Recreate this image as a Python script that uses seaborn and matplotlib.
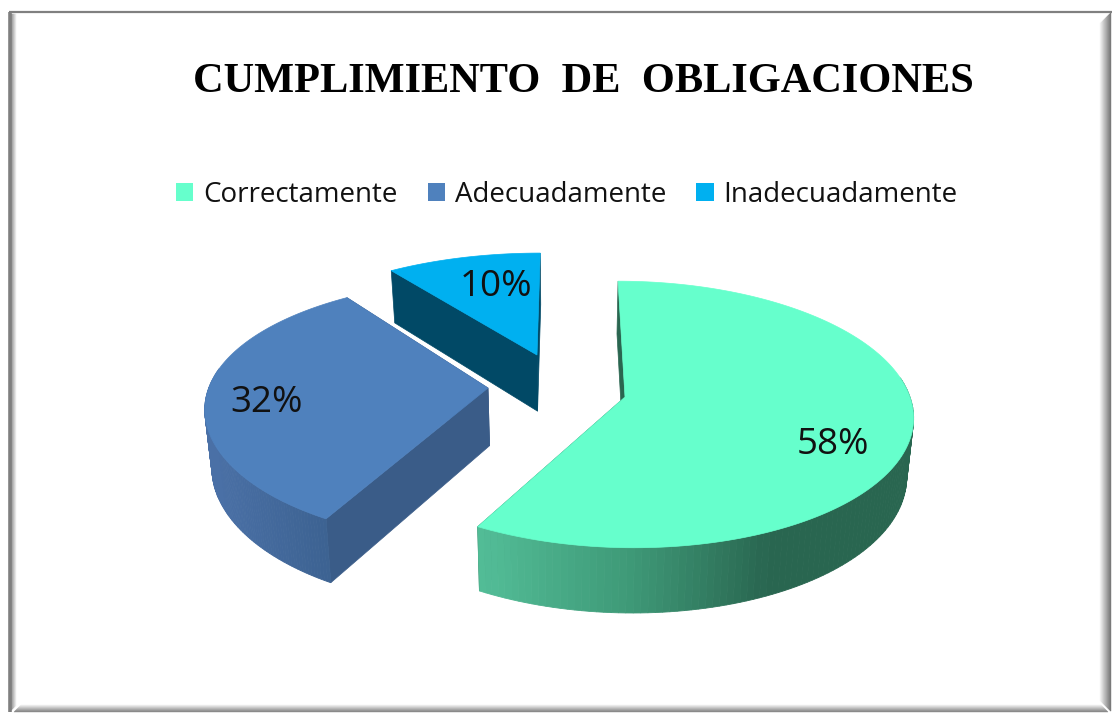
#!/usr/bin/env python3
"""Exploded 3D style pie of how obligations were met."""

import matplotlib
matplotlib.use("Agg")
import matplotlib.pyplot as plt
import numpy as np
import seaborn as sns
from matplotlib.patches import Patch

TITLE = "CUMPLIMIENTO  DE  OBLIGACIONES"
categories = ["Correctamente", "Adecuadamente", "Inadecuadamente"]
shares = [58, 32, 10]
top_colors = ["#66FFCC", "#4F81BD", "#00B0F0"]
cut_colors = ["#2A6650", "#3A5C88", "#014966"]

W, H = 1115, 713
VANISH_X = 565
PERSP = 0.131
RX, RY = 285, 131


def project(apex, u, v, shape):
    """Disc coordinates to pixels, with a little perspective towards the viewer."""
    rx_scale, ry_scale, py = shape
    x = VANISH_X + (apex[0] - VANISH_X + RX * rx_scale * u) / (1 - PERSP * v)
    y = apex[1] + RY * ry_scale * v / (1 - py * v)
    return x, y


def extrude(x, y):
    """Bottom face of the same point."""
    return x + (VANISH_X - x) * 0.02, y + 39.5 + 0.047 * y


def draw_slice(ax, start, end, apex, shape, top, cut, side):
    t = np.radians(np.linspace(start, end, 160))
    x, y = project(apex, np.sin(t), -np.cos(t), shape)
    bx, by = extrude(x, y)
    ax_, ay_ = apex
    abx, aby = extrude(ax_, ay_)

    for j in (0, -1):
        ax.fill([ax_, x[j], bx[j], abx], [ay_, y[j], by[j], aby], color=cut, lw=0.5, zorder=2)

    lo, hi, ramp = side
    for i in range(len(t) - 1):
        # the back of the rim sits behind the top face
        if -np.cos(t[i]) < -0.15:
            continue
        k = np.clip((x[i] - lo) / (hi - lo), 0, 1)
        c = ramp[int(k * (len(ramp) - 1))]
        ax.fill([x[i], x[i + 1], bx[i + 1], bx[i]], [y[i], y[i + 1], by[i + 1], by[i]],
                color=c, lw=0.6, zorder=2.5)
    ax.fill(np.r_[ax_, x], np.r_[ay_, y], color=top, lw=0.5, zorder=3)


def draw_frame(ax):
    grad = lambda a, b, n: sns.blend_palette([a, b], n)
    for i, c in enumerate(grad("#FFFFFF", "#7A7A7A", 12)):
        ax.fill([1099 + i, 1100 + i, 1100 + i, 1099 + i], [24 - i, 24 - i, 700 + i, 700 + i],
                color=c, lw=0.3, zorder=1)
    for i, c in enumerate(grad("#FFFFFF", "#8A8A8A", 8)):
        ax.fill([22 - i, 1100 + i, 1101 + i, 21 - i], [704 + i, 704 + i, 705 + i, 705 + i],
                color=c, lw=0.3, zorder=1)
    for i, c in enumerate(grad("#FFFFFF", "#9A9A9A", 6)):
        ax.fill([17 - i, 16 - i, 16 - i, 17 - i], [14, 14, 705 + i, 705 + i], color=c, lw=0.3, zorder=1)
    ax.plot([10, 10], [12, 712], color="#7F7F7F", lw=2.6, solid_capstyle="butt", zorder=1.5)
    ax.plot([9, 1112], [12, 12], color="#808080", lw=1.6, solid_capstyle="butt", zorder=1.5)


def main():
    sns.set_theme(style="white")
    plt.rcParams["font.family"] = ["Open Sans", "DejaVu Sans"]

    fig = plt.figure(figsize=(W / 100, H / 100), dpi=100)
    ax = fig.add_axes([0, 0, 1, 1])
    ax.set_xlim(0, W)
    ax.set_ylim(H, 0)
    ax.axis("off")

    draw_frame(ax)

    edges = np.r_[0, np.cumsum(shares)] * 3.6
    apexes = [(625, 397), (488, 388), (537, 355)]
    shapes = [(1.0, 1.0, PERSP), (0.98, 0.97, 0.17), (0.98, 0.88, PERSP)]
    sides = [
        (483, 770, sns.blend_palette(["#52BC96", "#3F9A78", "#296650"], 40)),
        (212, 330, sns.blend_palette(["#4A70A6", "#3C6291"], 40)),
        (392, 540, sns.blend_palette(["#014966", "#014966"], 2)),
    ]
    for i in (2, 1, 0):
        draw_slice(ax, edges[i], edges[i + 1], apexes[i], shapes[i], top_colors[i], cut_colors[i], sides[i])

    label_at = [(833, 445), (267, 403), (496, 287)]
    for (lx, ly), s in zip(label_at, shares):
        ax.text(lx, ly, f"{s}%", fontsize=26.5, color="#111111", ha="center", va="center", zorder=5)

    ax.text(583, 92, TITLE, fontsize=30.5, family="Liberation Serif", weight="bold",
            color="black", ha="center", va="baseline", zorder=5)

    handles = [Patch(facecolor=c, edgecolor="none") for c in top_colors]
    ax.legend(handles, categories, loc="center", bbox_to_anchor=(567 / W, 1 - 195 / H), ncol=3,
              frameon=False, fontsize=20, handlelength=0.62, handleheight=0.62,
              handletextpad=0.36, columnspacing=1.08, labelcolor="#111111")

    fig.savefig("out.png", dpi=100)
    plt.close(fig)


if __name__ == "__main__":
    main()
